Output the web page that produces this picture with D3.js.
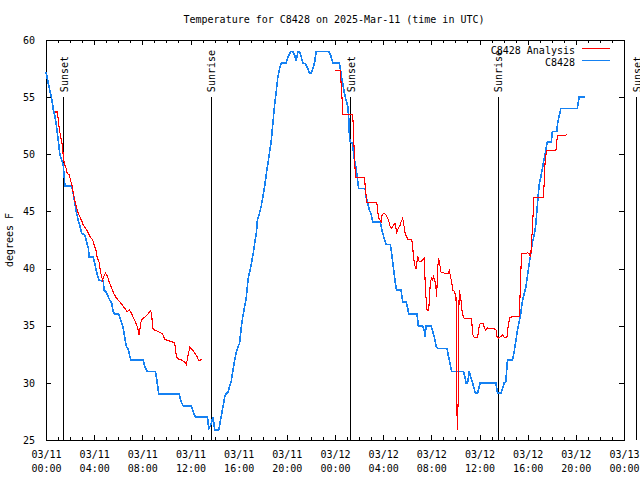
<!DOCTYPE html>
<html>
<head>
<meta charset="utf-8">
<script src="https://cdn.jsdelivr.net/npm/d3@7"></script>
<style>
  html, body { margin: 0; padding: 0; background: #fff; }
  svg { display: block; }
  text { font-family: "DejaVu Sans Mono", monospace; font-size: 10px; fill: #000; }
</style>
</head>
<body>
<svg id="chart" width="640" height="480"></svg>
<script>
// ---------- DATA ----------
const titleText = "Temperature for C8428 on 2025-Mar-11 (time in UTC)";
const yLabelText = "degrees F";
const seriesNames = ["C8428 Analysis", "C8428"];
const seriesColors = ["#ff0000", "#1581f2"];

// x = hours since 03/11 00:00 UTC
const xTickHours = [0, 4, 8, 12, 16, 20, 24, 28, 32, 36, 40, 44, 48];
const xTickLabels = [
  ["03/11", "00:00"], ["03/11", "04:00"], ["03/11", "08:00"], ["03/11", "12:00"],
  ["03/11", "16:00"], ["03/11", "20:00"], ["03/12", "00:00"], ["03/12", "04:00"],
  ["03/12", "08:00"], ["03/12", "12:00"], ["03/12", "16:00"], ["03/12", "20:00"],
  ["03/13", "00:00"]
];
const yTicks = [25, 30, 35, 40, 45, 50, 55, 60];

const eventHours = [1.44, 13.70, 25.26, 37.50, 49.0];
const eventLabels = ["Sunset", "Sunrise", "Sunset", "Sunrise", "Sunset"];

// C8428 observations [hour, degF]
const obsSeries = [
  [0.00,57.2],[0.19,56.2],[0.33,55.5],[0.47,54.9],[0.61,53.9],[0.75,53.3],[0.89,52.3],[1.02,51.2],
  [1.16,49.9],[1.30,49.5],[1.43,49.1],[1.58,47.2],[2.13,47.2],[2.26,46.6],[2.40,45.7],[2.55,44.8],
  [2.68,44.2],[2.82,43.7],[2.96,43.1],[3.23,42.9],[3.51,41.8],[3.59,41.0],[3.92,41.0],[4.06,40.4],
  [4.20,39.7],[4.39,39.0],[4.75,38.9],[4.83,38.1],[5.03,37.9],[5.31,37.2],[5.45,37.0],[5.58,36.2],
  [5.72,36.0],[6.05,36.0],[6.28,35.3],[6.41,34.8],[6.55,33.9],[6.69,33.1],[6.82,33.0],[6.96,32.3],
  [7.05,32.0],[8.07,32.0],[8.21,31.4],[8.40,31.0],[9.09,31.0],[9.18,30.4],[9.37,29.0],[11.05,29.0],
  [11.25,28.3],[11.38,28.0],[12.08,28.0],[12.21,27.5],[12.41,27.0],[13.41,27.0],[13.51,26.0],[13.65,26.2],
  [13.76,26.6],[13.87,27.0],[14.01,25.9],[14.34,25.9],[14.42,26.3],[14.57,27.2],[14.70,27.9],[14.84,28.8],
  [14.92,29.0],[15.11,29.2],[15.25,29.7],[15.39,30.2],[15.53,31.1],[15.67,32.0],[15.81,32.7],[15.94,33.1],
  [16.08,33.5],[16.22,34.9],[16.36,35.9],[16.50,36.7],[16.64,37.5],[16.77,39.0],[16.91,39.7],[17.05,40.4],
  [17.19,41.2],[17.33,42.2],[17.47,43.1],[17.55,44.2],[17.74,44.9],[17.88,45.5],[18.01,46.3],[18.16,47.2],
  [18.30,48.3],[18.43,49.2],[18.57,50.2],[18.71,51.2],[18.84,52.7],[18.98,54.3],[19.13,55.6],[19.26,56.8],
  [19.40,57.5],[19.54,58.0],[19.95,58.0],[20.09,58.5],[20.23,58.8],[20.37,59.0],[20.50,59.0],[20.64,58.7],
  [20.78,58.2],[20.92,59.0],[21.06,59.0],[21.20,58.5],[21.33,58.0],[21.55,57.9],[21.75,57.5],[21.89,57.1],
  [22.03,57.1],[22.16,57.5],[22.30,58.0],[22.44,59.0],[23.49,59.0],[23.63,58.7],[23.82,58.0],[24.37,58.0],
  [24.51,57.0],[24.64,56.2],[24.79,55.3],[24.93,54.7],[25.06,54.2],[25.15,53.0],[25.20,51.5],[25.26,51.1],
  [25.42,51.0],[25.53,50.2],[25.61,49.5],[25.75,48.8],[25.84,48.0],[25.97,47.0],[26.50,47.0],[26.58,46.3],
  [26.72,45.7],[26.86,45.1],[27.00,44.8],[27.13,44.1],[27.75,44.1],[27.83,43.7],[27.96,43.1],[28.10,42.6],
  [28.24,42.1],[28.60,42.1],[28.71,41.3],[28.79,40.6],[28.93,39.4],[29.07,38.3],[29.16,38.1],[29.49,38.1],
  [29.62,37.1],[29.90,37.1],[30.04,36.5],[30.12,36.0],[30.81,36.0],[30.92,35.0],[31.28,35.0],[31.42,34.5],
  [31.48,34.0],[31.56,35.0],[31.98,35.0],[32.11,34.5],[32.25,34.0],[32.39,33.2],[32.52,33.0],[33.30,33.0],
  [33.41,32.4],[33.49,32.0],[33.63,31.3],[33.68,31.0],[34.68,31.0],[34.79,30.5],[34.88,30.0],[35.01,30.0],
  [35.15,31.0],[35.29,30.4],[35.42,30.0],[35.56,29.5],[35.65,29.1],[35.84,29.1],[35.98,29.7],[36.06,30.0],
  [37.36,30.0],[37.50,29.1],[37.78,29.1],[37.91,29.5],[38.05,30.0],[38.19,30.1],[38.32,32.0],[38.74,32.0],
  [38.88,32.7],[39.02,33.7],[39.15,34.6],[39.29,35.3],[39.43,36.1],[39.57,37.2],[39.71,37.8],[39.85,38.4],
  [39.98,39.3],[40.12,40.4],[40.26,41.3],[40.40,42.3],[40.54,42.9],[40.68,43.9],[40.81,45.6],[40.95,47.3],
  [41.09,48.0],[41.23,48.8],[41.37,49.6],[41.51,50.4],[41.64,51.1],[41.97,51.1],[42.05,52.0],[42.42,52.0],
  [42.47,52.6],[42.61,53.3],[42.75,54.0],[44.13,54.0],[44.27,55.0],[44.77,55.0]
];

// C8428 Analysis [hour, degF]; null = gap
const analysisSeries = [
  [0.75,53.7],[0.94,53.7],[1.02,53.0],[1.10,52.3],[1.22,51.5],[1.30,51.1],[1.38,50.7],[1.43,49.8],
  [1.52,49.2],[1.66,48.8],[1.77,48.3],[1.93,48.2],[2.05,47.7],[2.18,47.2],[2.26,46.6],[2.40,45.9],
  [2.55,45.3],[2.68,44.8],[2.82,44.5],[2.96,44.2],[3.09,43.8],[3.37,43.4],[3.65,42.8],[3.87,42.5],
  [4.15,41.6],[4.25,41.0],[4.42,40.5],[4.53,39.7],[4.62,39.3],[4.70,39.0],[4.83,39.4],[4.95,39.6],
  [5.12,39.3],[5.25,38.8],[5.45,38.3],[5.64,37.8],[5.86,37.4],[6.13,37.1],[6.41,36.7],[6.63,36.4],
  [6.74,36.2],[6.91,36.4],[7.10,36.1],[7.30,35.6],[7.52,35.1],[7.68,34.5],[7.73,34.2],[7.88,35.3],
  [7.93,35.5],[8.35,35.9],[8.70,36.3],[8.79,35.8],[8.85,34.8],[9.04,34.6],[9.31,34.5],[9.67,34.3],
  [9.87,33.8],[10.14,33.7],[10.42,33.6],[10.69,33.5],[10.83,32.3],[10.97,32.1],[11.25,32.0],[11.52,31.8],
  [11.66,31.6],[11.77,32.3],[11.94,33.1],[12.16,32.9],[12.35,32.6],[12.54,32.3],[12.71,31.9],[12.91,32.1],
  null,
  [23.96,57.3],[24.43,57.3],[24.51,56.2],[24.60,54.6],[24.64,53.5],[25.47,53.5],[25.53,52.1],[25.62,49.6],
  [25.70,48.0],[26.45,48.0],[26.53,46.9],[26.64,45.8],[27.47,45.8],[27.55,45.0],[27.63,44.4],[27.83,44.1],
  [27.91,44.7],[28.05,44.85],[28.24,44.7],[28.44,44.25],[28.58,43.7],[28.71,43.5],[28.85,43.8],[28.99,43.95],
  [29.12,43.2],[29.26,43.5],[29.41,43.8],[29.49,44.1],[29.62,44.4],[29.70,43.95],[29.82,43.1],[30.04,42.55],
  [30.37,42.55],[30.45,41.9],[30.53,40.9],[30.65,40.2],[30.73,40.0],[30.87,41.05],[31.00,40.6],[31.15,40.6],
  [31.28,40.75],[31.42,40.9],[31.48,39.0],[31.56,37.4],[31.65,36.3],[31.78,36.3],[31.83,37.25],[31.92,38.85],
  [32.02,39.15],[32.11,39.0],[32.19,39.3],[32.31,38.85],[32.39,38.3],[32.44,37.5],[32.52,39.9],[32.60,40.9],
  [32.69,40.45],[32.80,39.7],[33.08,39.6],[33.41,39.6],[33.49,39.8],[33.58,39.4],[33.68,38.85],[33.80,38.1],
  [33.91,38.0],[34.05,37.5],[34.07,35.0],[34.10,28.9],[34.16,25.9],[34.24,28.9],[34.26,35.0],[34.32,38.1],
  [34.40,37.7],[34.46,37.25],[34.54,36.4],[34.65,35.8],[34.74,35.65],[35.29,35.65],[35.37,35.2],[35.42,34.3],
  [35.56,33.95],[35.84,33.95],[35.98,35.0],[36.06,35.2],[36.34,35.2],[36.39,34.8],[36.53,34.6],[36.67,34.8],
  [37.36,34.7],[37.45,34.05],[37.55,33.9],[37.78,34.05],[37.91,34.2],[38.05,34.0],[38.28,34.0],[38.41,35.2],
  [38.52,35.7],[38.74,35.8],[39.30,35.8],[39.35,37.1],[39.44,39.9],[39.49,41.3],[39.85,41.3],[39.98,41.4],
  [40.12,41.3],[40.26,41.0],[40.31,42.35],[40.40,43.5],[40.46,45.0],[40.48,46.2],[41.31,46.2],[41.37,47.45],
  [41.45,49.4],[41.56,50.3],[42.34,50.3],[42.47,51.6],[43.30,51.7]
];

// ---------- CHART ----------
const svg = d3.select("#chart");
const plotLeft = 46, plotRight = 624, plotTop = 40, plotBottom = 440;

const x = d3.scaleLinear().domain([0, 48]).range([plotLeft, plotRight]);
const y = d3.scaleLinear().domain([25, 60]).range([plotBottom, plotTop]);

svg.append("rect").attr("width", 640).attr("height", 480).attr("fill", "#fff");

// title
svg.append("text").attr("x", 334).attr("y", 23).attr("text-anchor", "middle").text(titleText);

// y label
svg.append("text")
  .attr("transform", "translate(13,240) rotate(-90)")
  .attr("text-anchor", "middle")
  .text(yLabelText);

const minorHours = d3.range(0, 49, 1).filter(h => !xTickHours.includes(h));

function styleAxis(g) {
  g.select(".domain").remove();
  g.selectAll("line").attr("stroke", "#000").attr("shape-rendering", "crispEdges");
}

// bottom axis: minor + major
svg.append("g").attr("transform", `translate(0,${plotBottom})`)
  .call(d3.axisBottom(x).tickValues(minorHours).tickSizeInner(-3).tickSizeOuter(0).tickFormat(""))
  .call(styleAxis);
const gx = svg.append("g").attr("transform", `translate(0,${plotBottom})`)
  .call(d3.axisBottom(x).tickValues(xTickHours).tickSizeInner(-5).tickSizeOuter(0).tickPadding(0))
  .call(styleAxis);
gx.selectAll(".tick text").each(function(d, i) {
  const t = d3.select(this);
  t.text(null).attr("dy", null).attr("y", null)
   .style("font-family", "'DejaVu Sans Mono', monospace").style("font-size", "10px").attr("fill", "#000");
  t.append("tspan").attr("x", 0).attr("y", 18).text(xTickLabels[i][0]);
  t.append("tspan").attr("x", 0).attr("y", 32).text(xTickLabels[i][1]);
});

// top mirror ticks
svg.append("g").attr("transform", `translate(0,${plotTop})`)
  .call(d3.axisTop(x).tickValues(minorHours).tickSizeInner(-3).tickSizeOuter(0).tickFormat(""))
  .call(styleAxis);
svg.append("g").attr("transform", `translate(0,${plotTop})`)
  .call(d3.axisTop(x).tickValues(xTickHours).tickSizeInner(-5).tickSizeOuter(0).tickFormat(""))
  .call(styleAxis);

// left axis
const gy = svg.append("g").attr("transform", `translate(${plotLeft},0)`)
  .call(d3.axisLeft(y).tickValues(yTicks).tickSizeInner(-5).tickSizeOuter(0).tickPadding(11).tickFormat(d3.format("d")))
  .call(styleAxis);
gy.selectAll(".tick text")
  .style("font-family", "'DejaVu Sans Mono', monospace").style("font-size", "10px").attr("fill", "#000");

// right mirror ticks
svg.append("g").attr("transform", `translate(${plotRight},0)`)
  .call(d3.axisRight(y).tickValues(yTicks).tickSizeInner(-5).tickSizeOuter(0).tickFormat(""))
  .call(styleAxis);

// frame
svg.append("rect")
  .attr("x", plotLeft + 0.5).attr("y", plotTop + 0.5)
  .attr("width", plotRight - plotLeft).attr("height", plotBottom - plotTop)
  .attr("fill", "none").attr("stroke", "#000").attr("stroke-width", 1)
  .attr("shape-rendering", "crispEdges");

// sunrise / sunset lines
const ev = svg.append("g");
eventHours.forEach((h, i) => {
  ev.append("line")
    .attr("x1", Math.round(x(h)) + 0.5).attr("x2", Math.round(x(h)) + 0.5)
    .attr("y1", y(55)).attr("y2", y(25))
    .attr("stroke", "#000").attr("stroke-width", 1).attr("shape-rendering", "crispEdges");
  ev.append("text")
    .attr("transform", `translate(${x(h) + 4.5},${y(55) - 5}) rotate(-90)`)
    .attr("text-anchor", "start")
    .text(eventLabels[i]);
});

// data lines
const line = d3.line()
  .defined(d => d !== null)
  .x(d => x(d[0]))
  .y(d => y(d[1]));

svg.append("path").datum(obsSeries)
  .attr("fill", "none").attr("stroke", seriesColors[1]).attr("stroke-width", 1.6)
  .attr("shape-rendering", "crispEdges")
  .attr("d", line);

svg.append("path").datum(analysisSeries)
  .attr("fill", "none").attr("stroke", seriesColors[0]).attr("stroke-width", 1.1)
  .attr("shape-rendering", "crispEdges")
  .attr("d", line);

// legend
const legendY = [54, 66];
seriesNames.forEach((name, i) => {
  svg.append("text").attr("x", 575).attr("y", legendY[i]).attr("text-anchor", "end").text(name);
  svg.append("line")
    .attr("x1", 582).attr("x2", 610)
    .attr("y1", legendY[i] - 5.5).attr("y2", legendY[i] - 5.5)
    .attr("stroke", seriesColors[i]).attr("stroke-width", i === 1 ? 1.6 : 1.1)
    .attr("shape-rendering", "crispEdges");
});
</script>
</body>
</html>
